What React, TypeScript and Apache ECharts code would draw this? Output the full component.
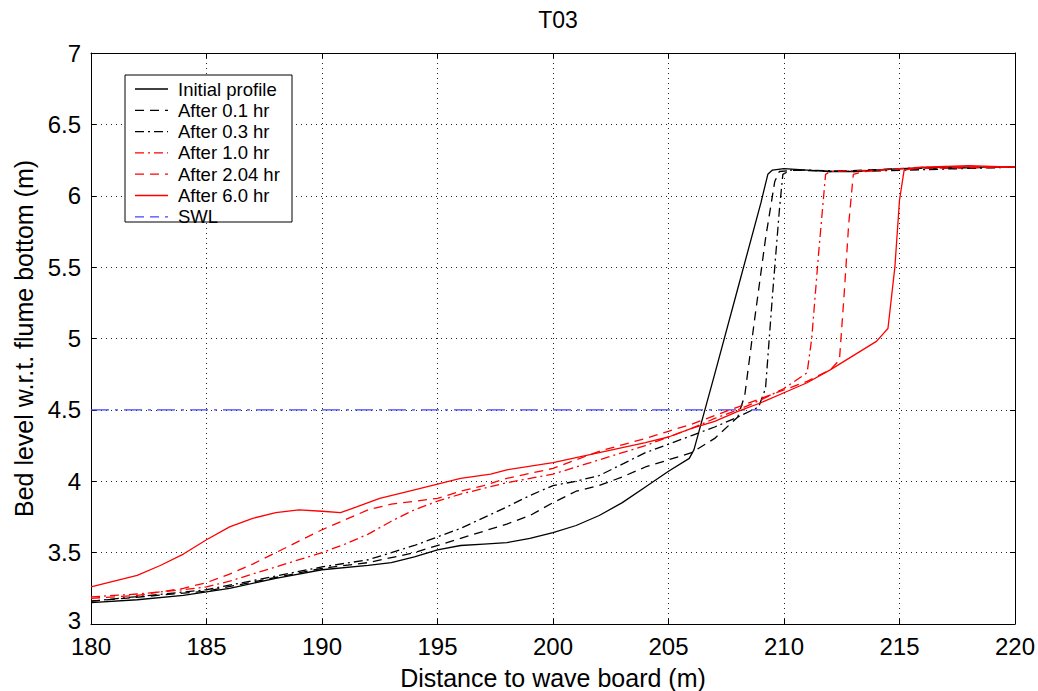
import React, { useEffect, useRef } from "react";
import * as echarts from "echarts";

const FONT = "'Liberation Sans', Arial, Helvetica, sans-serif";

const chartTitle = "T03";
const xAxisTitle = "Distance to wave board (m)";
const yAxisTitle = "Bed level w.r.t. flume bottom (m)";

const legendLabels = [
  "Initial profile",
  "After 0.1 hr",
  "After 0.3 hr",
  "After 1.0 hr",
  "After 2.04 hr",
  "After 6.0 hr",
  "SWL",
];

const initialProfile = [
  [180, 3.15], [182, 3.17], [184, 3.2], [186, 3.25], [188, 3.32], [190, 3.38],
  [192, 3.41], [193, 3.43], [194, 3.47], [195, 3.52], [196, 3.55], [197, 3.56],
  [198, 3.57], [199, 3.6], [200, 3.64], [201, 3.69], [202, 3.76], [203, 3.85],
  [204, 3.96], [205, 4.07], [205.9, 4.16], [206.1, 4.22], [207, 4.75], [208, 5.35],
  [209, 5.95], [209.3, 6.15], [209.5, 6.18], [210, 6.19], [211, 6.18], [212, 6.17],
  [213, 6.17], [215, 6.19], [217, 6.2], [220, 6.2],
];

const after01 = [
  [180, 3.16], [185, 3.23], [190, 3.39], [192, 3.43], [194, 3.5], [196, 3.6],
  [198, 3.7], [199, 3.76], [200, 3.85], [201, 3.93], [202, 3.97], [203, 4.03],
  [204, 4.1], [205, 4.15], [206, 4.2], [207, 4.3], [208, 4.45], [208.3, 4.6],
  [208.7, 5.1], [209.2, 5.7], [209.6, 6.1], [209.8, 6.17], [210.5, 6.18],
  [212, 6.17], [215, 6.19], [220, 6.2],
];

const after03 = [
  [180, 3.16], [185, 3.24], [190, 3.4], [192, 3.45], [194, 3.55], [196, 3.67],
  [198, 3.82], [199, 3.9], [200, 3.97], [201, 4.0], [202, 4.04], [203, 4.12],
  [204, 4.2], [205, 4.26], [206, 4.32], [207, 4.38], [208, 4.45], [208.9, 4.52],
  [209.2, 4.65], [209.5, 5.3], [209.8, 5.9], [209.95, 6.15], [210.3, 6.18],
  [211, 6.18], [213, 6.17], [220, 6.2],
];

const after10 = [
  [180, 3.19], [182, 3.21], [184, 3.24], [185, 3.26], [186, 3.3], [188, 3.4],
  [190, 3.5], [191, 3.56], [192, 3.63], [193, 3.72], [194, 3.8], [195, 3.86],
  [196, 3.91], [197, 3.95], [198, 3.99], [200, 4.05], [202, 4.15], [203, 4.2],
  [204, 4.25], [205, 4.31], [206, 4.37], [207, 4.44], [208, 4.5], [209, 4.57],
  [210, 4.65], [211, 4.76], [211.2, 5.0], [211.5, 5.6], [211.8, 6.15], [212, 6.17],
  [214, 6.18], [216, 6.2], [220, 6.2],
];

const after204 = [
  [180, 3.18], [182, 3.2], [184, 3.25], [185, 3.29], [186, 3.35], [187, 3.42],
  [188, 3.5], [189, 3.58], [190, 3.66], [191, 3.73], [192, 3.8], [193, 3.84],
  [194, 3.86], [195, 3.88], [196, 3.93], [197, 3.97], [198, 4.02], [200, 4.09],
  [202, 4.21], [204, 4.3], [205, 4.35], [206, 4.4], [207, 4.46], [208, 4.52],
  [209, 4.58], [210, 4.64], [211, 4.7], [212, 4.78], [212.4, 4.85], [212.6, 5.3],
  [212.8, 5.8], [213, 6.15], [213.5, 6.17], [215, 6.19], [220, 6.2],
];

const after60 = [
  [180, 3.26], [181, 3.3], [182, 3.34], [183, 3.41], [184, 3.49], [185, 3.59],
  [186, 3.68], [187, 3.74], [188, 3.78], [189, 3.8], [190, 3.79], [190.8, 3.78],
  [191.5, 3.82], [192.5, 3.88], [194, 3.94], [195, 3.98], [196, 4.02], [197.3, 4.05],
  [198, 4.08], [200, 4.13], [202, 4.2], [204, 4.27], [205, 4.31], [206, 4.37],
  [207, 4.42], [208, 4.49], [209, 4.55], [210, 4.62], [211, 4.69], [212, 4.78],
  [213, 4.88], [214, 4.98], [214.5, 5.07], [214.8, 5.5], [215, 5.97], [215.2, 6.18],
  [216, 6.2], [218, 6.21], [220, 6.2],
];

const swl = [[180, 4.5], [209, 4.5]];

const seriesData = [initialProfile, after01, after03, after10, after204, after60, swl];
const seriesColors = ["#000000", "#000000", "#000000", "#ff0000", "#ff0000", "#ff0000", "#4444ff"];
const DASH = [9, 6];
const DASHDOT = [9, 4, 2, 4];
const seriesDash: any[] = ["solid", DASH, DASHDOT, DASHDOT, DASH, "solid", [18, 6, 3, 6]];
const legendDash: any[] = [null, DASH, DASHDOT, DASHDOT, DASH, null, DASH];

export default function App() {
  const ref = useRef<HTMLDivElement>(null);
  useEffect(() => {
    document.body.style.margin = "0";
    const chart = echarts.init(ref.current!, null, { renderer: "svg" });

    const legendX = 125, legendY = 75, rowH = 21.3;
    const legendGraphics: any[] = [
      {
        type: "rect",
        z: 100,
        shape: { x: legendX, y: legendY, width: 167, height: 147 },
        style: { fill: "#ffffff", stroke: "#000000", lineWidth: 1 },
      },
    ];
    legendLabels.forEach((label, i) => {
      const cy = legendY + 14 + i * rowH;
      legendGraphics.push({
        type: "line",
        z: 101,
        shape: { x1: legendX + 10, y1: cy, x2: legendX + 43, y2: cy },
        style: {
          stroke: seriesColors[i],
          lineWidth: 1.3,
          lineDash: legendDash[i] || undefined,
        },
      });
      legendGraphics.push({
        type: "text",
        z: 101,
        x: legendX + 53,
        y: cy,
        style: {
          text: label,
          fill: "#000",
          font: `18.5px ${FONT}`,
          textAlign: "left",
          textVerticalAlign: "middle",
        },
      });
    });

    const axisCommon = {
      type: "value" as const,
      axisLine: { show: true, onZero: false, lineStyle: { color: "#000", width: 1 } },
      axisTick: { show: true, inside: true, length: 5, lineStyle: { color: "#000" } },
    };
    const splitLine = { show: true, lineStyle: { color: "#222", type: [1, 4], width: 1 } };

    chart.setOption({
      animation: false,
      backgroundColor: "#ffffff",
      title: {
        text: chartTitle,
        left: 553,
        top: 3,
        textAlign: "center",
        textStyle: { fontSize: 23, fontWeight: "normal", fontFamily: FONT, color: "#000" },
      },
      grid: {
        left: 91, right: 23, top: 53, bottom: 67,
        containLabel: false,
        outerBoundsMode: "none",
      },
      xAxis: [
        {
          ...axisCommon,
          min: 180, max: 220, interval: 5,
          position: "bottom",
          axisLabel: { fontSize: 24, color: "#000", fontFamily: FONT, margin: 10 },
          splitLine,
          name: xAxisTitle,
          nameLocation: "middle",
          nameGap: 41,
          nameTextStyle: { fontSize: 25, color: "#000", fontFamily: FONT },
        },
        {
          ...axisCommon,
          min: 180, max: 220, interval: 5,
          position: "top",
          axisLabel: { show: false },
          splitLine: { show: false },
        },
      ],
      yAxis: [
        {
          ...axisCommon,
          min: 3, max: 7, interval: 0.5,
          position: "left",
          axisLabel: {
            fontSize: 24,
            color: "#000",
            fontFamily: FONT,
            margin: 10,
            formatter: (v: number) => (v === 3 ? "{low|3}" : String(v)),
            rich: { low: { fontSize: 24, fontFamily: FONT, color: "#000", padding: [0, 0, 8, 0] } },
          },
          splitLine,
          name: yAxisTitle,
          nameLocation: "middle",
          nameGap: 52,
          nameTextStyle: { fontSize: 25, color: "#000", fontFamily: FONT },
        },
        {
          ...axisCommon,
          min: 3, max: 7, interval: 0.5,
          position: "right",
          axisLabel: { show: false },
          splitLine: { show: false },
        },
      ],
      series: seriesData.map((data, i) => ({
        type: "line",
        name: legendLabels[i],
        data,
        xAxisIndex: 0,
        yAxisIndex: 0,
        showSymbol: false,
        symbol: "none",
        smooth: false,
        lineStyle: { color: seriesColors[i], width: 1.3, type: seriesDash[i] },
        z: i === 6 ? 1 : 2 + i,
      })),
      graphic: legendGraphics,
    });
    return () => chart.dispose();
  }, []);
  return <div ref={ref} style={{ width: 1038, height: 691 }} />;
}
